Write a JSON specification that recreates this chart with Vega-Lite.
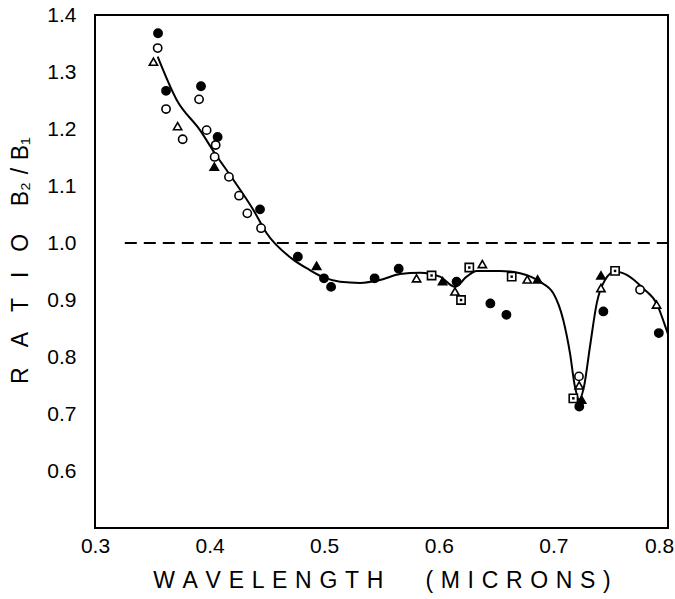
{
  "$schema": "https://vega.github.io/schema/vega-lite/v6.json",
  "width": 573,
  "height": 513,
  "autosize": {"type": "none"},
  "padding": {"left": 95, "top": 15, "right": 7, "bottom": 71},
  "background": "white",
  "config": {
    "view": {"stroke": "black", "strokeWidth": 2},
    "axis": {
      "domain": false,
      "grid": false,
      "ticks": false,
      "labelColor": "black",
      "labelFont": "Liberation Sans",
      "labelFontSize": 21,
      "titleColor": "black",
      "titleFont": "Liberation Sans",
      "titleFontSize": 23,
      "titleFontWeight": "normal"
    }
  },
  "datasets": {
    "obs": [
      {"x": 0.355, "y": 1.368, "m": "fc"},
      {"x": 0.362, "y": 1.267, "m": "fc"},
      {"x": 0.3925, "y": 1.275, "m": "fc"},
      {"x": 0.407, "y": 1.186, "m": "fc"},
      {"x": 0.444, "y": 1.059, "m": "fc"},
      {"x": 0.477, "y": 0.976, "m": "fc"},
      {"x": 0.4998, "y": 0.938, "m": "fc"},
      {"x": 0.506, "y": 0.923, "m": "fc"},
      {"x": 0.544, "y": 0.938, "m": "fc"},
      {"x": 0.565, "y": 0.955, "m": "fc"},
      {"x": 0.6155, "y": 0.932, "m": "fc"},
      {"x": 0.645, "y": 0.894, "m": "fc"},
      {"x": 0.659, "y": 0.874, "m": "fc"},
      {"x": 0.7226, "y": 0.713, "m": "fc"},
      {"x": 0.7436, "y": 0.88, "m": "fc"},
      {"x": 0.792, "y": 0.842, "m": "fc"},
      {"x": 0.3547, "y": 1.342, "m": "oc"},
      {"x": 0.362, "y": 1.235, "m": "oc"},
      {"x": 0.3908, "y": 1.252, "m": "oc"},
      {"x": 0.3765, "y": 1.182, "m": "oc"},
      {"x": 0.3974, "y": 1.198, "m": "oc"},
      {"x": 0.4053, "y": 1.172, "m": "oc"},
      {"x": 0.4044, "y": 1.151, "m": "oc"},
      {"x": 0.4169, "y": 1.116, "m": "oc"},
      {"x": 0.4257, "y": 1.083, "m": "oc"},
      {"x": 0.4329, "y": 1.052, "m": "oc"},
      {"x": 0.4449, "y": 1.026, "m": "oc"},
      {"x": 0.7223, "y": 0.766, "m": "oc"},
      {"x": 0.7756, "y": 0.918, "m": "oc"},
      {"x": 0.351, "y": 1.318, "m": "ot"},
      {"x": 0.3721, "y": 1.205, "m": "ot"},
      {"x": 0.5806, "y": 0.938, "m": "ot"},
      {"x": 0.6141, "y": 0.915, "m": "ot"},
      {"x": 0.638, "y": 0.963, "m": "ot"},
      {"x": 0.6772, "y": 0.936, "m": "ot"},
      {"x": 0.7225, "y": 0.75, "m": "ot"},
      {"x": 0.7415, "y": 0.921, "m": "ot"},
      {"x": 0.79, "y": 0.892, "m": "ot"},
      {"x": 0.4041, "y": 1.134, "m": "ft"},
      {"x": 0.4934, "y": 0.96, "m": "ft"},
      {"x": 0.6033, "y": 0.933, "m": "ft"},
      {"x": 0.6862, "y": 0.936, "m": "ft"},
      {"x": 0.7246, "y": 0.725, "m": "ft"},
      {"x": 0.7415, "y": 0.943, "m": "ft"},
      {"x": 0.5937, "y": 0.943, "m": "sq"},
      {"x": 0.6194, "y": 0.9, "m": "sq"},
      {"x": 0.6266, "y": 0.957, "m": "sq"},
      {"x": 0.6636, "y": 0.941, "m": "sq"},
      {"x": 0.7174, "y": 0.7275, "m": "sq"},
      {"x": 0.7538, "y": 0.951, "m": "sq"}
    ],
    "curve": [
      {"x": 0.3547, "y": 1.327},
      {"x": 0.3713, "y": 1.251},
      {"x": 0.3916, "y": 1.198},
      {"x": 0.4047, "y": 1.157},
      {"x": 0.4207, "y": 1.111},
      {"x": 0.4382, "y": 1.058},
      {"x": 0.4498, "y": 1.017},
      {"x": 0.4715, "y": 0.973},
      {"x": 0.487, "y": 0.953},
      {"x": 0.4992, "y": 0.94},
      {"x": 0.5138, "y": 0.932},
      {"x": 0.5312, "y": 0.93},
      {"x": 0.5487, "y": 0.935},
      {"x": 0.5661, "y": 0.9456},
      {"x": 0.5836, "y": 0.948},
      {"x": 0.601, "y": 0.941},
      {"x": 0.6141, "y": 0.923},
      {"x": 0.6243, "y": 0.941},
      {"x": 0.633, "y": 0.951},
      {"x": 0.6534, "y": 0.951},
      {"x": 0.6709, "y": 0.947},
      {"x": 0.6883, "y": 0.932},
      {"x": 0.6999, "y": 0.912},
      {"x": 0.7086, "y": 0.865},
      {"x": 0.7145, "y": 0.8065},
      {"x": 0.7188, "y": 0.748},
      {"x": 0.7226, "y": 0.725},
      {"x": 0.7267, "y": 0.748},
      {"x": 0.7319, "y": 0.818},
      {"x": 0.7378, "y": 0.894},
      {"x": 0.745, "y": 0.935},
      {"x": 0.7538, "y": 0.95},
      {"x": 0.764, "y": 0.944},
      {"x": 0.7785, "y": 0.92},
      {"x": 0.79, "y": 0.894},
      {"x": 0.7988, "y": 0.847},
      {"x": 0.8, "y": 0.84}
    ],
    "unity": [{"x": 0.326, "x2": 0.8, "y": 1.0}],
    "xticks": [
      {"x": 0.4, "k": "major"},
      {"x": 0.5, "k": "major"},
      {"x": 0.6, "k": "major"},
      {"x": 0.7, "k": "major"},
      {"x": 0.35, "k": "minor"},
      {"x": 0.45, "k": "minor"},
      {"x": 0.55, "k": "minor"},
      {"x": 0.65, "k": "minor"},
      {"x": 0.75, "k": "minor"}
    ],
    "yticks": [
      {"y": 0.6}, {"y": 0.7}, {"y": 0.8}, {"y": 0.9}, {"y": 1.0},
      {"y": 1.1}, {"y": 1.2}, {"y": 1.3}
    ]
  },
  "encoding": {
    "x": {
      "field": "x",
      "type": "quantitative",
      "scale": {"domain": [0.3, 0.8], "nice": false, "zero": false},
      "axis": {
        "values": [0.3, 0.4, 0.5, 0.6, 0.7, 0.8],
        "format": ".1f",
        "labelOffset": {"condition": {"test": "datum.value > 0.79", "value": -9}, "value": 0},
        "labelPadding": 7,
        "labelFlush": false,
        "labelOverlap": false,
        "title": "W\u2004A\u2004V\u2004E\u2004L\u2004E\u2004N\u2004G\u2004T\u2004H\u2003\u2002\u2004(\u2004M\u2004I\u2004C\u2004R\u2004O\u2004N\u2004S\u2004)",
        "titleY": 52,
        "titleBaseline": "middle"
      }
    },
    "y": {
      "field": "y",
      "type": "quantitative",
      "scale": {"domain": [0.5, 1.4], "nice": false, "zero": false},
      "axis": {
        "values": [0.6, 0.7, 0.8, 0.9, 1.0, 1.1, 1.2, 1.3, 1.4],
        "format": ".1f",
        "labelPadding": 19,
        "labelOverlap": false,
        "title": "R\u2004\u2004\u2009A\u2004\u2004\u2009T\u2004\u2004\u2009I\u2004\u2004\u2009O\u2003\u2009B\u2082\u2004/\u2004B\u2081",
        "titleX": -75,
        "titleY": 245,
        "titleAngle": -90,
        "titleAlign": "center",
        "titleBaseline": "middle"
      }
    }
  },
  "layer": [
    {
      "data": {"name": "xticks"},
      "transform": [{"filter": "datum.k === 'major'"}],
      "mark": {"type": "rule", "color": "black", "strokeWidth": 2.5, "strokeCap": "butt"},
      "encoding": {"y": {"datum": 0.5, "type": "quantitative"}, "y2": {"datum": 0.536}}
    },
    {
      "data": {"name": "xticks"},
      "transform": [{"filter": "datum.k === 'minor'"}],
      "mark": {"type": "rule", "color": "black", "strokeWidth": 2.5, "strokeCap": "butt"},
      "encoding": {"y": {"datum": 0.5, "type": "quantitative"}, "y2": {"datum": 0.518}}
    },
    {
      "data": {"name": "yticks"},
      "mark": {"type": "rule", "color": "black", "strokeWidth": 2.5, "strokeCap": "butt"},
      "encoding": {"x": {"datum": 0.3, "type": "quantitative"}, "x2": {"datum": 0.3122}}
    },
    {
      "data": {"name": "unity"},
      "mark": {"type": "rule", "color": "black", "strokeWidth": 2, "strokeDash": [12, 7]},
      "encoding": {"x2": {"field": "x2"}}
    },
    {
      "data": {"name": "curve"},
      "mark": {"type": "line", "interpolate": "monotone", "color": "black", "strokeWidth": 2}
    },
    {
      "data": {"name": "obs"},
      "mark": {"type": "point", "filled": true, "stroke": "black", "strokeWidth": 1.6, "opacity": 1},
      "encoding": {
        "shape": {
          "field": "m",
          "type": "nominal",
          "scale": {"domain": ["fc", "oc", "ot", "ft", "sq"], "range": ["circle", "circle", "triangle-up", "triangle-up", "square"]},
          "legend": null
        },
        "fill": {
          "field": "m",
          "type": "nominal",
          "scale": {"domain": ["fc", "oc", "ot", "ft", "sq"], "range": ["black", "white", "white", "black", "white"]},
          "legend": null
        },
        "size": {
          "field": "m",
          "type": "nominal",
          "scale": {"domain": ["fc", "oc", "ot", "ft", "sq"], "range": [68, 68, 100, 100, 85]},
          "legend": null
        }
      }
    },
    {
      "data": {"name": "obs"},
      "transform": [{"filter": "datum.m === 'sq'"}],
      "mark": {"type": "point", "shape": "square", "filled": true, "color": "black", "size": 6, "opacity": 1}
    }
  ]
}
